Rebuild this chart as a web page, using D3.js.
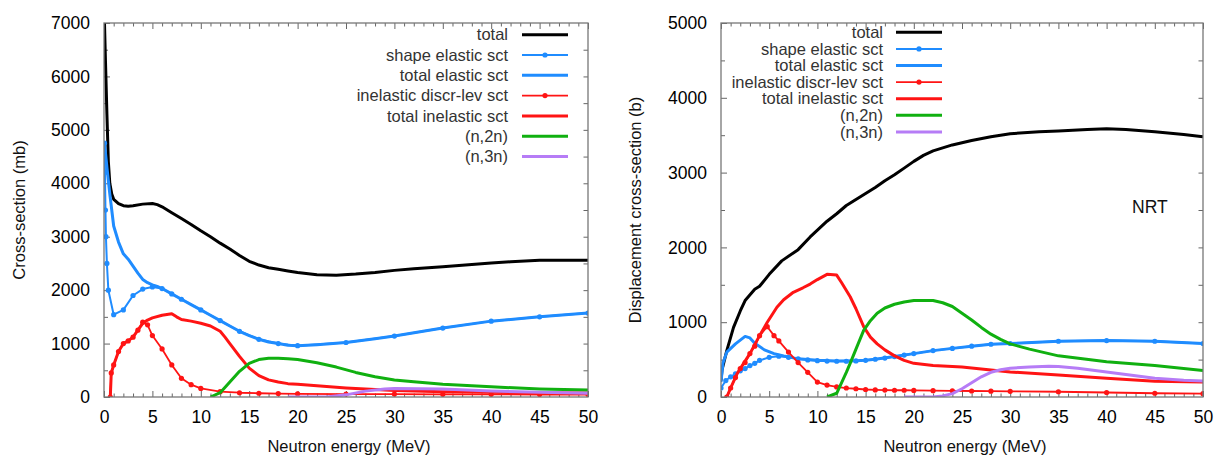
<!DOCTYPE html>
<html>
<head>
<meta charset="utf-8">
<script src="https://cdn.jsdelivr.net/npm/d3@7"></script>
<style>
  body { margin: 0; background: #fff; }
  text { font-family: "Liberation Sans", Arial, sans-serif; }
</style>
</head>
<body>
<div id="chart"></div>
<script>
// series names (legend order)
const seriesNames = ["total", "shape elastic sct", "total elastic sct", "inelastic discr-lev sct",
  "total inelastic sct", "(n,2n)", "(n,3n)"];
const xTicks = [0, 5, 10, 15, 20, 25, 30, 35, 40, 45, 50];
const leftYTicks = [0, 1000, 2000, 3000, 4000, 5000, 6000, 7000];
const rightYTicks = [0, 1000, 2000, 3000, 4000, 5000];

// ---- left panel: cross-section (mb), [energy MeV, value]
const leftTotal = [[0.05,7000],[0.15,6300],[0.3,5300],[0.45,4400],[0.6,4000],[0.8,3800],[1,3700],[1.5,3620],
  [2,3580],[2.5,3570],[3,3580],[4,3610],[5,3620],[5.5,3600],[6,3560],[7,3450],[8,3340],[9,3230],[10,3110],
  [11,3000],[12,2880],[13,2770],[14,2650],[15,2540],[16,2470],[17,2420],[18,2390],[19,2360],[20,2330],
  [22,2290],[24,2280],[26,2300],[28,2330],[30,2370],[32,2400],[35,2440],[38,2480],[40,2510],[42,2530],
  [45,2560],[48,2560],[50,2560]];
const leftShapeEl = [[0.05,4750],[0.1,4200],[0.15,3500],[0.2,3000],[0.3,2500],[0.45,2000],[1,1540],[2,1630],
  [3,1900],[4,2020],[5,2060],[6,2030],[7,1930],[8,1830],[10,1630],[12,1430],[14,1230],[16,1080],[18,1000],
  [20,960],[25,1020],[30,1140],[35,1290],[40,1420],[45,1500],[50,1570]];
const leftTotalEl = [[0.05,4750],[0.3,4300],[0.6,3800],[0.8,3500],[1,3200],[1.5,2900],[2,2680],[2.5,2580],
  [3,2450],[3.5,2320],[4,2200],[4.5,2140],[5,2100],[5.5,2070],[6,2030],[7,1930],[8,1830],[9,1730],[10,1630],
  [11,1530],[12,1430],[13,1330],[14,1230],[15,1150],[16,1080],[17,1030],[18,1000],[19,970],[20,960],
  [22,980],[25,1020],[28,1090],[30,1140],[35,1290],[40,1420],[45,1500],[50,1570]];
const leftDiscrInel = [[0.65,0],[0.75,450],[1,600],[1.5,850],[2,1000],[2.5,1050],[3,1120],[3.5,1250],
  [4,1400],[4.5,1350],[5,1150],[6,900],[7,600],[8,350],[9,230],[10,160],[12,100],[14,80],[16,70],[18,65],
  [20,60],[25,55],[30,55],[35,50],[40,50],[45,45],[50,45]];
const leftTotalInel = [[0.65,0],[0.75,450],[1,600],[1.5,850],[2,1000],[2.5,1050],[3,1120],[3.5,1250],
  [4,1380],[4.5,1440],[5,1480],[6,1530],[7,1560],[7.5,1500],[8,1450],[9,1420],[10,1380],[11,1330],
  [12,1230],[12.5,1120],[13,1000],[14,760],[15,540],[16,400],[17,320],[18,280],[19,250],[20,240],
  [22,210],[25,170],[28,140],[30,120],[35,100],[40,90],[45,80],[50,75]];
const leftN2n = [[11,0],[12,80],[13,280],[14,480],[15,630],[16,700],[17,725],[18,725],[19,715],[20,700],
  [22,640],[24,560],[26,460],[28,380],[30,320],[32,285],[35,240],[40,190],[45,150],[50,130]];
const leftN3n = [[19,0],[23,0],[25,40],[27,110],[29,150],[30,160],[35,150],[40,110],[45,90],[50,70]];

// ---- right panel: displacement cross-section (b)
const rightTotal = [[0,220],[0.1,360],[0.6,620],[1.3,930],[2,1150],[2.5,1290],[3.5,1440],[4,1480],[5,1640],
  [6.3,1820],[8,1970],[9.25,2140],[10,2230],[11,2350],[12,2450],[13,2560],[14,2640],[15,2720],[16,2800],
  [17,2890],[18,2970],[19,3060],[20,3150],[21,3230],[22,3290],[23,3330],[24,3370],[25,3400],[26,3430],
  [28,3480],[30,3520],[33,3545],[35,3555],[38,3575],[40,3585],[42,3575],[45,3545],[48,3510],[50,3480]];
const rightShapeEl = [[0,120],[0.5,220],[1,270],[1.5,310],[2,350],[2.5,380],[3,420],[3.5,450],[4,490],
  [5,530],[6,545],[7,530],[8,510],[9,495],[10,485],[11,480],[12,478],[13,478],[14,482],[15,490],[16,505],
  [17,520],[18,540],[19,560],[20,580],[22,620],[24,650],[26,680],[28,705],[30,715],[35,745],[40,755],
  [45,745],[50,715]];
const rightTotalEl = [[0,200],[0.2,450],[0.6,600],[1.5,710],[2.5,810],[3,790],[3.5,720],[4.5,630],
  [5.5,580],[6.5,550],[8,510],[10,490],[12,480],[14,485],[15,490],[16,505],[18,540],[20,580],[22,620],
  [24,650],[26,680],[28,705],[30,715],[35,745],[40,755],[45,745],[50,715]];
const rightDiscrInel = [[0.6,0],[1,120],[1.5,260],[2,380],[2.5,460],[3,580],[3.5,680],[4,820],[4.8,940],
  [5.5,820],[6,750],[7,600],[8,460],[9,330],[10,200],[11,160],[12,135],[13,120],[14,110],[15,100],[16,95],
  [17,92],[18,90],[19,90],[20,88],[22,85],[24,82],[26,80],[28,78],[30,76],[35,70],[40,60],[45,50],[50,45]];
const rightTotalInel = [[0.6,0],[1,120],[1.66,310],[2,380],[3,580],[4,820],[4.8,1000],[5.8,1200],
  [6.5,1300],[7.5,1400],[8.5,1460],[9.25,1510],[10,1570],[11,1640],[12,1630],[12.5,1530],[13.4,1340],
  [14,1180],[14.8,940],[15.5,800],[16.2,710],[17,630],[18,550],[19,490],[20,450],[22,420],[25,400],
  [28,360],[30,335],[35,295],[40,250],[45,210],[50,200]];
const rightN2n = [[11,0],[12,50],[13,330],[13.4,450],[14,640],[14.8,890],[15.5,1020],[16.2,1120],[17,1190],
  [18,1240],[19,1270],[20,1290],[22,1290],[23,1260],[24,1210],[25,1120],[26,1030],[27,930],[28,840],
  [29,770],[30,710],[32,640],[35,550],[40,470],[45,420],[50,355]];
const rightN3n = [[19,0],[22,0],[23,15],[24,45],[25,110],[26,190],[27,270],[28,330],[29,365],[30,385],
  [32,400],[34,410],[35,408],[37,385],[40,335],[42,300],[45,250],[48,225],[50,215]];

// styles per series (legend order)
const styles = [
  { color: "#000000", width: 3, marker: false },
  { color: "#1f8cff", width: 2, marker: true },
  { color: "#1f8cff", width: 3, marker: false },
  { color: "#ff1414", width: 1.8, marker: true },
  { color: "#ff1414", width: 3, marker: false },
  { color: "#10b010", width: 3, marker: false },
  { color: "#b67cf6", width: 3, marker: false }
];

const svg = d3.select("#chart").append("svg")
  .attr("width", 1223)
  .attr("height", 458);

function panel(cfg) {
  const x = d3.scaleLinear().domain([0, 50]).range([cfg.x0, cfg.x1]);
  const y = d3.scaleLinear().domain([0, cfg.ymax]).range([cfg.y1, cfg.y0]);
  const g = svg.append("g");

  const clipId = "clip" + cfg.id;
  svg.append("clipPath").attr("id", clipId)
    .append("rect")
    .attr("x", cfg.x0).attr("y", cfg.y0)
    .attr("width", cfg.x1 - cfg.x0).attr("height", cfg.y1 - cfg.y0);

  // minor ticks
  const minorX = d3.range(0, 51, 1).filter(v => v % 5 != 0);
  const minorY = d3.range(500, cfg.ymax, 1000);
  const axes = [
    [d3.axisBottom(x), `translate(0,${cfg.y1})`],
    [d3.axisTop(x), `translate(0,${cfg.y0})`]
  ];
  axes.forEach(([ax, tr]) => {
    g.append("g").attr("class", "tk").attr("transform", tr)
      .call(ax.tickValues(minorX).tickSize(-3.5).tickFormat(""));
  });
  g.append("g").attr("class", "tk").attr("transform", `translate(0,${cfg.y1})`)
    .call(d3.axisBottom(x).tickValues(xTicks).tickSize(-6).tickPadding(13.5).tickFormat(d3.format("d")));
  g.append("g").attr("class", "tk").attr("transform", `translate(0,${cfg.y0})`)
    .call(d3.axisTop(x).tickValues(xTicks).tickSize(-6).tickFormat(""));
  g.append("g").attr("class", "tk").attr("transform", `translate(${cfg.x0},0)`)
    .call(d3.axisLeft(y).tickValues(cfg.yTicks).tickSize(-6).tickPadding(14).tickFormat(d3.format("d")));
  g.append("g").attr("class", "tk").attr("transform", `translate(${cfg.x0},0)`)
    .call(d3.axisLeft(y).tickValues(minorY).tickSize(-4).tickFormat(""));
  g.append("g").attr("class", "tk").attr("transform", `translate(${cfg.x1},0)`)
    .call(d3.axisRight(y).tickValues(d3.range(500, cfg.ymax, 500)).tickSize(-4.5).tickFormat(""));

  g.selectAll(".tk .domain").remove();
  g.selectAll(".tk line").attr("stroke", "#666").attr("stroke-width", 1);
  g.selectAll(".tk text").attr("font-size", 17.5).attr("fill", "#000")
    .attr("font-family", "'Liberation Sans', Arial, sans-serif");

  // curves
  const line = d3.line().x(d => x(d[0])).y(d => y(d[1]));
  const plot = g.append("g").attr("clip-path", `url(#${clipId})`);
  cfg.series.forEach((s, i) => {
    const st = styles[i];
    plot.append("path")
      .datum(s)
      .attr("fill", "none")
      .attr("stroke", st.color)
      .attr("stroke-width", st.width)
      .attr("stroke-linejoin", "round")
      .attr("d", line);
    if (st.marker) {
      plot.selectAll(null)
        .data(s)
        .join("circle")
        .attr("cx", d => x(d[0]))
        .attr("cy", d => y(d[1]))
        .attr("r", 2.6)
        .attr("fill", st.color);
    }
  });

  // frame
  g.append("rect")
    .attr("x", cfg.x0).attr("y", cfg.y0)
    .attr("width", cfg.x1 - cfg.x0).attr("height", cfg.y1 - cfg.y0)
    .attr("fill", "none").attr("stroke", "#777").attr("stroke-width", 1.3);

  // legend
  const lg = g.selectAll("g.legend")
    .data(seriesNames)
    .join("g")
    .attr("class", "legend")
    .attr("transform", (d, i) => `translate(0,${cfg.legY + i * cfg.legDy})`);
  lg.append("text")
    .attr("x", cfg.legText)
    .attr("dy", "0.35em")
    .attr("text-anchor", "end")
    .attr("font-size", 16.5)
    .attr("fill", "#333")
    .text(d => d);
  lg.append("line")
    .attr("x1", cfg.legX0).attr("x2", cfg.legX1)
    .attr("stroke", (d, i) => styles[i].color)
    .attr("stroke-width", (d, i) => styles[i].width);
  lg.filter((d, i) => styles[i].marker)
    .append("circle")
    .attr("cx", (cfg.legX0 + cfg.legX1) / 2)
    .attr("r", 2.6)
    .attr("fill", (d) => styles[seriesNames.indexOf(d)].color);

  // axis titles
  svg.append("text")
    .attr("x", (cfg.x0 + cfg.x1) / 2 + 3)
    .attr("y", 452)
    .attr("text-anchor", "middle")
    .attr("font-size", 16.5)
    .attr("fill", "#111")
    .text("Neutron energy (MeV)");
  svg.append("text")
    .attr("transform", `translate(${cfg.yTitleX},${(cfg.y0 + cfg.y1) / 2}) rotate(-90)`)
    .attr("text-anchor", "middle")
    .attr("font-size", 16.5)
    .attr("fill", "#111")
    .text(cfg.yLabel);

  if (cfg.note) {
    svg.append("text")
      .attr("x", cfg.note.x).attr("y", cfg.note.y)
      .attr("font-size", 17.5)
      .attr("fill", "#111")
      .text(cfg.note.text);
  }
}

panel({
  id: "L", x0: 104, x1: 588, y0: 23, y1: 397, ymax: 7000, yTicks: leftYTicks,
  yLabel: "Cross-section (mb)", yTitleX: 25,
  series: [leftTotal, leftShapeEl, leftTotalEl, leftDiscrInel, leftTotalInel, leftN2n, leftN3n],
  legText: 508, legX0: 522, legX1: 568, legY: 34.7, legDy: 20.3
});
panel({
  id: "R", x0: 721, x1: 1203, y0: 23, y1: 397, ymax: 5000, yTicks: rightYTicks,
  yLabel: "Displacement cross-section (b)", yTitleX: 641,
  series: [rightTotal, rightShapeEl, rightTotalEl, rightDiscrInel, rightTotalInel, rightN2n, rightN3n],
  legText: 883, legX0: 896, legX1: 942, legY: 32.3, legDy: 16.6,
  note: { text: "NRT", x: 1132, y: 213 }
});
</script>
</body>
</html>
